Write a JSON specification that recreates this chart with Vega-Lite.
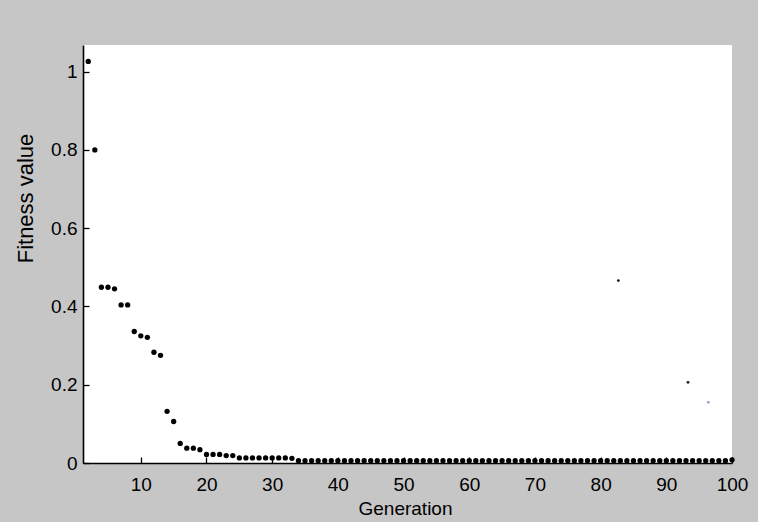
{
  "$schema": "https://vega.github.io/schema/vega-lite/v6.json",
  "autosize": {"type": "none"},
  "padding": {"left": 83, "top": 45, "right": 26, "bottom": 59},
  "width": 649,
  "height": 418,
  "background": "#c6c6c6",
  "view": {"fill": "white", "stroke": null},
  "config": {
    "font": "Liberation Sans",
    "axis": {
      "grid": false,
      "domainColor": "black",
      "domainWidth": 1.6,
      "tickColor": "black",
      "tickWidth": 1.3,
      "tickSize": -6,
      "labelColor": "black",
      "labelFontSize": 19,
      "labelFont": "Liberation Sans",
      "labelFlush": false,
      "titleFont": "Liberation Sans",
      "titleFontSize": 19,
      "titleFontWeight": "normal",
      "titleColor": "black"
    }
  },
  "datasets": {
    "fitness": [
      {"generation": 2, "fitness": 1.026},
      {"generation": 3, "fitness": 0.800},
      {"generation": 4, "fitness": 0.449},
      {"generation": 5, "fitness": 0.449},
      {"generation": 6, "fitness": 0.445},
      {"generation": 7, "fitness": 0.404},
      {"generation": 8, "fitness": 0.404},
      {"generation": 9, "fitness": 0.336},
      {"generation": 10, "fitness": 0.325},
      {"generation": 11, "fitness": 0.321},
      {"generation": 12, "fitness": 0.283},
      {"generation": 13, "fitness": 0.275},
      {"generation": 14, "fitness": 0.132},
      {"generation": 15, "fitness": 0.106},
      {"generation": 16, "fitness": 0.050},
      {"generation": 17, "fitness": 0.038},
      {"generation": 18, "fitness": 0.038},
      {"generation": 19, "fitness": 0.034},
      {"generation": 20, "fitness": 0.022},
      {"generation": 21, "fitness": 0.022},
      {"generation": 22, "fitness": 0.022},
      {"generation": 23, "fitness": 0.019},
      {"generation": 24, "fitness": 0.019},
      {"generation": 25, "fitness": 0.013},
      {"generation": 26, "fitness": 0.013},
      {"generation": 27, "fitness": 0.013},
      {"generation": 28, "fitness": 0.013},
      {"generation": 29, "fitness": 0.013},
      {"generation": 30, "fitness": 0.013},
      {"generation": 31, "fitness": 0.013},
      {"generation": 32, "fitness": 0.013},
      {"generation": 33, "fitness": 0.012},
      {"generation": 34, "fitness": 0.006},
      {"generation": 35, "fitness": 0.006},
      {"generation": 36, "fitness": 0.006},
      {"generation": 37, "fitness": 0.006},
      {"generation": 38, "fitness": 0.006},
      {"generation": 39, "fitness": 0.006},
      {"generation": 40, "fitness": 0.006},
      {"generation": 41, "fitness": 0.006},
      {"generation": 42, "fitness": 0.006},
      {"generation": 43, "fitness": 0.006},
      {"generation": 44, "fitness": 0.006},
      {"generation": 45, "fitness": 0.006},
      {"generation": 46, "fitness": 0.006},
      {"generation": 47, "fitness": 0.006},
      {"generation": 48, "fitness": 0.006},
      {"generation": 49, "fitness": 0.006},
      {"generation": 50, "fitness": 0.006},
      {"generation": 51, "fitness": 0.006},
      {"generation": 52, "fitness": 0.006},
      {"generation": 53, "fitness": 0.006},
      {"generation": 54, "fitness": 0.006},
      {"generation": 55, "fitness": 0.006},
      {"generation": 56, "fitness": 0.006},
      {"generation": 57, "fitness": 0.006},
      {"generation": 58, "fitness": 0.006},
      {"generation": 59, "fitness": 0.006},
      {"generation": 60, "fitness": 0.006},
      {"generation": 61, "fitness": 0.006},
      {"generation": 62, "fitness": 0.006},
      {"generation": 63, "fitness": 0.006},
      {"generation": 64, "fitness": 0.006},
      {"generation": 65, "fitness": 0.006},
      {"generation": 66, "fitness": 0.006},
      {"generation": 67, "fitness": 0.006},
      {"generation": 68, "fitness": 0.006},
      {"generation": 69, "fitness": 0.006},
      {"generation": 70, "fitness": 0.006},
      {"generation": 71, "fitness": 0.006},
      {"generation": 72, "fitness": 0.006},
      {"generation": 73, "fitness": 0.006},
      {"generation": 74, "fitness": 0.006},
      {"generation": 75, "fitness": 0.006},
      {"generation": 76, "fitness": 0.006},
      {"generation": 77, "fitness": 0.006},
      {"generation": 78, "fitness": 0.006},
      {"generation": 79, "fitness": 0.006},
      {"generation": 80, "fitness": 0.006},
      {"generation": 81, "fitness": 0.006},
      {"generation": 82, "fitness": 0.006},
      {"generation": 83, "fitness": 0.006},
      {"generation": 84, "fitness": 0.006},
      {"generation": 85, "fitness": 0.006},
      {"generation": 86, "fitness": 0.006},
      {"generation": 87, "fitness": 0.006},
      {"generation": 88, "fitness": 0.006},
      {"generation": 89, "fitness": 0.006},
      {"generation": 90, "fitness": 0.006},
      {"generation": 91, "fitness": 0.006},
      {"generation": 92, "fitness": 0.006},
      {"generation": 93, "fitness": 0.006},
      {"generation": 94, "fitness": 0.006},
      {"generation": 95, "fitness": 0.006},
      {"generation": 96, "fitness": 0.006},
      {"generation": 97, "fitness": 0.006},
      {"generation": 98, "fitness": 0.006},
      {"generation": 99, "fitness": 0.006},
      {"generation": 100, "fitness": 0.008}
    ],
    "stray": [
      {"generation": 82.7, "fitness": 0.466, "tone": "dark"},
      {"generation": 93.3, "fitness": 0.206, "tone": "dark"},
      {"generation": 96.4, "fitness": 0.155, "tone": "faint"}
    ]
  },
  "layer": [
    {
      "data": {"name": "fitness"},
      "mark": {"type": "circle", "size": 28, "color": "black", "opacity": 1},
      "encoding": {
        "x": {
          "field": "generation",
          "type": "quantitative",
          "scale": {"domain": [1.2, 100], "nice": false, "zero": false},
          "axis": {
            "title": "Generation",
            "values": [10, 20, 30, 40, 50, 60, 70, 80, 90, 100],
            "labelPadding": 18,
            "labelBaseline": "top",
            "titleX": 322,
            "titleY": 45,
            "titleBaseline": "middle",
            "titleAnchor": "middle"
          }
        },
        "y": {
          "field": "fitness",
          "type": "quantitative",
          "scale": {"domain": [0, 1.068], "nice": false},
          "axis": {
            "title": "Fitness value",
            "values": [0, 0.2, 0.4, 0.6, 0.8, 1],
            "format": "~g",
            "labelPadding": 12,
            "titleX": -58,
            "titleY": 153,
            "titleAngle": 270,
            "titleAlign": "center",
            "titleBaseline": "middle",
            "titleFontSize": 22
          }
        }
      }
    },
    {
      "data": {"name": "stray"},
      "mark": {"type": "circle", "size": 8, "opacity": 1},
      "encoding": {
        "x": {"field": "generation", "type": "quantitative"},
        "y": {"field": "fitness", "type": "quantitative"},
        "color": {
          "field": "tone",
          "type": "nominal",
          "scale": {"domain": ["dark", "faint"], "range": ["#1a1a2a", "#9aa0c8"]},
          "legend": null
        }
      }
    }
  ]
}
